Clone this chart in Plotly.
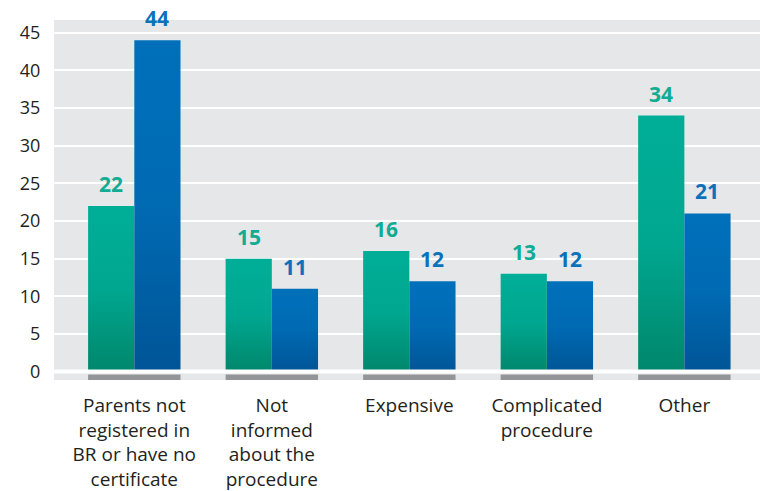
import plotly.graph_objects as go

# Reasons given, one entry per group of bars
categories = [
    "Parents not<br>registered in<br>BR or have no<br>certificate",
    "Not<br>informed<br>about the<br>procedure",
    "Expensive",
    "Complicated<br>procedure",
    "Other",
]
values_green = [22, 15, 16, 13, 34]
values_blue = [44, 11, 12, 12, 21]
y_ticks = [0, 5, 10, 15, 20, 25, 30, 35, 40, 45]

BAR_W = 0.336
FONT = "Open Sans"
GREEN = dict(light="#00ae97", mid="#00a790", dark="#00876c", label="#12ab94")
BLUE = dict(light="#0070bb", mid="#006ab3", dark="#005596", label="#0c71bb")

positions = list(range(len(categories)))

fig = go.Figure()

# grey strip under each pair of bars
fig.add_trace(go.Bar(
    x=positions, y=[0.72] * len(positions), base=-1.12,
    width=2 * BAR_W, marker=dict(color="#939598", line=dict(width=0)),
    hoverinfo="skip", showlegend=False,
))


def add_bar(xc, value, offset, pal):
    x0 = xc + offset
    x1 = x0 + BAR_W
    fig.add_trace(go.Scatter(
        x=[x0, x1, x1, x0, x0], y=[0, 0, value, value, 0],
        fill="toself", mode="lines", line=dict(width=0, color=pal["light"]),
        fillgradient=dict(
            type="vertical",
            colorscale=[[0, pal["dark"]], [0.5, pal["mid"]], [1, pal["light"]]],
        ),
        hoverinfo="skip", showlegend=False,
    ))
    fig.add_annotation(
        x=(x0 + x1) / 2, y=value, xref="x", yref="y",
        text=str(value), showarrow=False, yanchor="bottom", yshift=6,
        font=dict(family=FONT, size=21, color=pal["label"], weight=700),
    )


for i, (g, b) in enumerate(zip(values_green, values_blue)):
    add_bar(i, g, -BAR_W, GREEN)
    add_bar(i, b, 0.0, BLUE)

# white baseline at zero drawn over the bar bottoms
fig.add_shape(type="line", xref="paper", x0=0, x1=1, yref="y", y0=0, y1=0,
              line=dict(color="white", width=4), layer="above")

fig.update_layout(
    width=760, height=491,
    margin=dict(l=54, r=0, t=20, b=111),
    paper_bgcolor="white",
    plot_bgcolor="#e6e7e8",
    showlegend=False,
    font=dict(family=FONT, color="#231f20"),
    xaxis=dict(
        range=[-0.584, 4.55], tickvals=positions, ticktext=categories,
        showgrid=False, zeroline=False, showline=False, automargin=False,
        ticks="outside", ticklen=8, tickcolor="rgba(0,0,0,0)",
        tickfont=dict(family=FONT, size=19, color="#231f20"),
    ),
    yaxis=dict(
        range=[-1.12, 46.7], tickvals=y_ticks, automargin=False,
        showgrid=True, gridcolor="white", gridwidth=2,
        zeroline=False, showline=False,
        ticks="outside", ticklen=9, tickcolor="rgba(0,0,0,0)",
        tickfont=dict(family=FONT, size=18, color="#231f20"),
    ),
)

fig.write_html("out.html")
